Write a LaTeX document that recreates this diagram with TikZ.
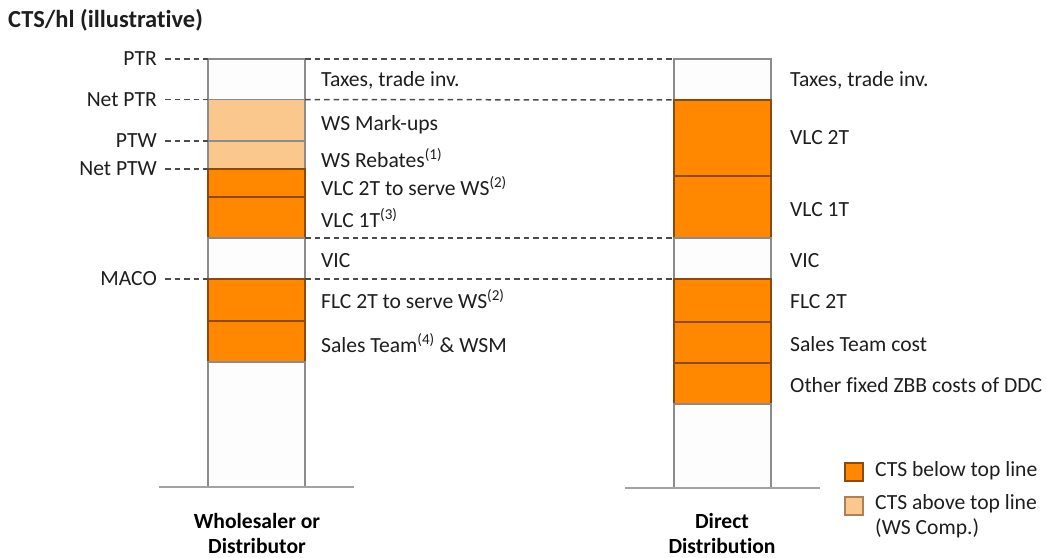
\documentclass[tikz,border=0pt]{standalone}
\usepackage{fontspec}
\setmainfont[Ligatures=NoCommon]{Carlito}
\definecolor{orng}{HTML}{FF8800}
\definecolor{lorng}{HTML}{FAC78C}
\definecolor{obrd}{HTML}{8A4B0A}
\definecolor{gbrd}{HTML}{8C8C8C}
\definecolor{txt}{HTML}{1E1E1E}
\definecolor{wfill}{HTML}{FDFDFD}
\begin{document}
\begin{tikzpicture}[x=1pt,y=-1pt,
  every node/.style={text=txt,font=\fontsize{21.6}{25}\selectfont},
  seg/.style={draw=gbrd,line width=1.2pt,fill=wfill,minimum width=97pt,inner sep=0pt,outer sep=0pt,anchor=north west},
  oseg/.style={seg,draw=obrd,fill=orng},
  lseg/.style={seg,draw=gbrd,fill=lorng},
  dline/.style={draw=txt!80,line width=1.5pt,dash pattern=on 5.5pt off 4pt},
  lbl/.style={anchor=west,inner sep=0pt},
  ylbl/.style={anchor=east,inner sep=0pt},
  base/.style={draw=gbrd!80,line width=2pt},
  cat/.style={font=\fontsize{21.6}{25}\selectfont\bfseries,text=black,align=center}
]
\useasboundingbox (0,0) rectangle (1046,557);
% title
\node[anchor=west,inner sep=0pt,font=\fontsize{24.5}{28}\selectfont\bfseries] (title) at (8,20) {CTS/hl (illustrative)};
% left bar
\node[seg,minimum height=40.5pt]  (L0) at (208,59) {};
\node[lseg,minimum height=41.5pt] (L1) at (208,99.5) {};
\node[lseg,minimum height=28pt]   (L2) at (208,141) {};
\node[oseg,minimum height=28pt]   (L3) at (208,169) {};
\node[oseg,minimum height=41pt]   (L4) at (208,197) {};
\node[seg,minimum height=41pt]    (L5) at (208,238) {};
\node[oseg,minimum height=42pt]   (L6) at (208,279) {};
\node[oseg,minimum height=41pt]   (L7) at (208,321) {};
\node[seg,minimum height=125pt]   (L8) at (208,362) {};
% right bar
\node[seg,minimum height=41pt]    (R0) at (674,59) {};
\node[oseg,minimum height=76pt]   (R1) at (674,100) {};
\node[oseg,minimum height=62pt]   (R2) at (674,176) {};
\node[seg,minimum height=41pt]    (R3) at (674,238) {};
\node[oseg,minimum height=43pt]   (R4) at (674,279) {};
\node[oseg,minimum height=41pt]   (R5) at (674,322) {};
\node[oseg,minimum height=41pt]   (R6) at (674,363) {};
\node[seg,minimum height=84pt]    (R7) at (674,404) {};
% base lines
\coordinate (bl1) at (159,487);
\coordinate (bl2) at (354,487);
\coordinate (br1) at (625,488);
\coordinate (br2) at (820,488);
\draw[base] (bl1) -- (bl2);
\draw[base] (br1) -- (br2);
% dashed lines between bars
\draw[dline] (L0.north east) -- (R0.north west);
\draw[dline] (L1.north east) -- (R1.north west);
\draw[dline] (L5.north east) -- (R3.north west);
\draw[dline] (L6.north east) -- (R4.north west);
% left axis labels
\node[ylbl] (ptr)   at (157,59)   {PTR};
\node[ylbl] (nptr)  at (157,99.5) {Net PTR};
\node[ylbl] (ptw)   at (157,141)  {PTW};
\node[ylbl] (nptw)  at (157,169)  {Net PTW};
\node[ylbl] (maco)  at (157,279)  {MACO};
\draw[dline] ([xshift=8pt]ptr.east)  -- (L0.north west);
\draw[dline] ([xshift=8pt]nptr.east) -- (L1.north west);
\draw[dline] ([xshift=8pt]ptw.east)  -- (L2.north west);
\draw[dline] ([xshift=8pt]nptw.east) -- (L3.north west);
\draw[dline] ([xshift=8pt]maco.east) -- (L6.north west);
% left segment labels
\node[lbl] (t1) at (321,80)  {Taxes, trade inv.};
\node[lbl] (t2) at (321,125) {WS Mark-ups};
\node[lbl] (t3) at (321,158) {WS Rebates\textsuperscript{(1)}};
\node[lbl] (t4) at (321,186) {VLC 2T to serve WS\textsuperscript{(2)}};
\node[lbl] (t5) at (321,218) {VLC 1T\textsuperscript{(3)}};
\node[lbl] (t6) at (321,261) {VIC};
\node[lbl] (t7) at (321,299) {FLC 2T to serve WS\textsuperscript{(2)}};
\node[lbl] (t8) at (321,343) {Sales Team\textsuperscript{(4)} \& WSM};
% right segment labels
\node[lbl] (r1) at (790,80)  {Taxes, trade inv.};
\node[lbl] (r2) at (790,138) {VLC 2T};
\node[lbl] (r3) at (790,210) {VLC 1T};
\node[lbl] (r4) at (790,261) {VIC};
\node[lbl] (r5) at (790,302) {FLC 2T};
\node[lbl] (r6) at (790,344) {Sales Team cost};
\node[lbl] (r7) at (790,385) {Other fixed ZBB costs of DDC};
% category labels
\node[cat] (c1) at (257,533) {Wholesaler or\\Distributor};
\node[cat] (c2) at (722,533) {Direct\\Distribution};
% legend
\node[oseg,minimum width=18pt,minimum height=18pt,line width=1.2pt] (k1) at (845,463) {};
\node[lseg,minimum width=18pt,minimum height=18pt,draw=obrd!70,line width=1.2pt] (k2) at (845,497) {};
\node[lbl] (k1t) at (875,471) {CTS below top line};
\node[lbl,align=left,anchor=north west] (k2t) at (875,494) {CTS above top line\\(WS Comp.)};
\end{tikzpicture}
\end{document}
